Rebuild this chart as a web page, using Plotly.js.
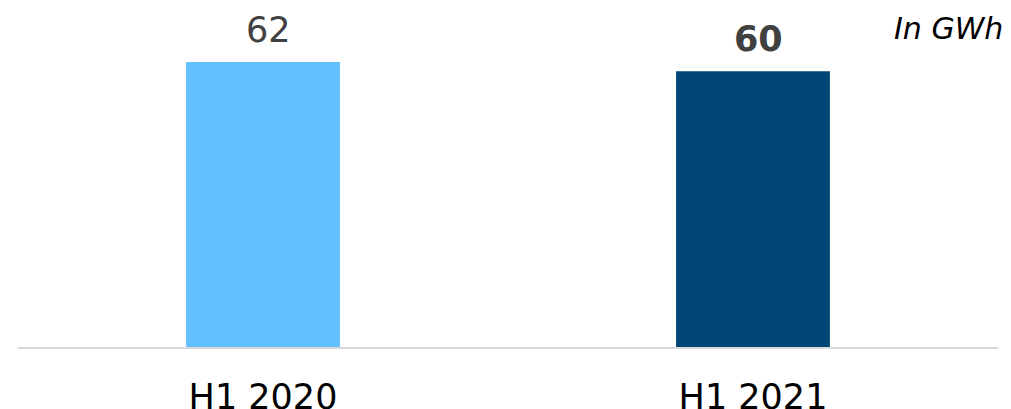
<!DOCTYPE html>
<html>
<head>
<meta charset="utf-8">
<script src="https://cdn.plot.ly/plotly-3.0.1.min.js"></script>
<style>html,body{margin:0;padding:0;background:#fff;}#chart{width:1011px;height:409px;}</style>
</head>
<body>
<div id="chart"></div>
<script>
const categories = ["H1 2020", "H1 2021"];
const values = [62, 60];
const valueLabels = ["62", "<b>60</b>"];
const barColors = ["#62C0FF", "#004677"];
const unitLabel = "<i>In GWh</i>";

const trace = {
  type: "bar",
  x: categories,
  y: values,
  marker: {color: barColors, line: {width: 0}},
  hoverinfo: "none"
};

const annotations = categories.map((c, i) => ({
  x: c, y: values[i], xref: "x", yref: "y",
  text: valueLabels[i], showarrow: false,
  xanchor: "center", yanchor: "bottom", xshift: 5, yshift: 10,
  font: {family: "DejaVu Sans", size: 35, color: "#404040"}
}));
annotations.push({
  x: 1.0075, y: 0.975, xref: "paper", yref: "paper",
  text: unitLabel, showarrow: false, xanchor: "right", yanchor: "middle",
  font: {family: "DejaVu Sans", size: 30, color: "#000000"}
});

const layout = {
  width: 1011, height: 409,
  margin: {l: 18, r: 13, t: 20, b: 62},
  paper_bgcolor: "#ffffff", plot_bgcolor: "#ffffff",
  bargap: 0.686,
  showlegend: false,
  xaxis: {
    type: "category", range: [-0.5, 1.5],
    showline: true, linecolor: "#d9d9d9", linewidth: 2,
    showgrid: false, zeroline: false,
    ticks: "", ticklabelstandoff: 18,
    tickfont: {family: "DejaVu Sans", size: 35, color: "#000000"},
    automargin: false, fixedrange: true
  },
  yaxis: {
    range: [0, 71.13], visible: false, showgrid: false, zeroline: false,
    fixedrange: true
  },
  annotations: annotations
};

Plotly.newPlot("chart", [trace], layout, {displayModeBar: false, staticPlot: true});
</script>
</body>
</html>
